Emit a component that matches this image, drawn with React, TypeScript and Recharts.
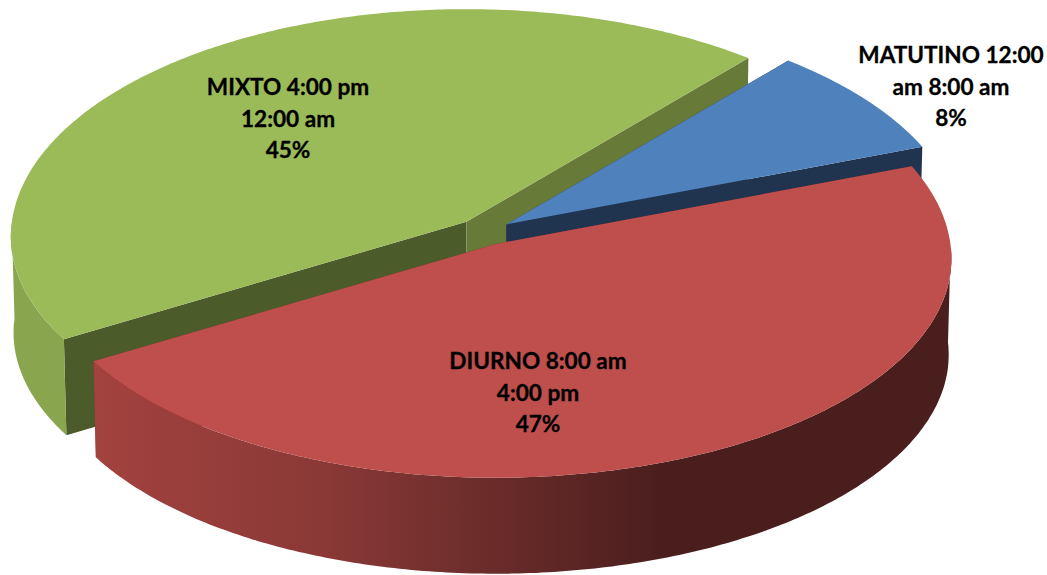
import { PieChart, Pie, Cell } from 'recharts'

const names = ['MIXTO', 'MATUTINO', 'DIURNO']
const values = [45, 8, 47]
const labelLines = [
  ['MIXTO 4:00 pm', '12:00 am', '45%'],
  ['MATUTINO 12:00', 'am 8:00 am', '8%'],
  ['DIURNO 8:00 am', '4:00 pm', '47%'],
]
const topColors = ['#9BBB59', '#4F81BD', '#BE4F4C']
const wallColors = ['#89A54E', '#3A5F8C', 'url(#redWall)']
const startCutColors = ['#4C5B2A', '#20344F', '#7A2F2D']
const endCutColors = ['#677A38', '#20344F', '#7A2F2D']
const labelCenters = [
  { x: 288, y: 95 },
  { x: 951, y: 63 },
  { x: 538, y: 369 },
]

const RY_BACK = 227 / 454.5
const RY_FRONT = 218 / 454.5
const RY_MEAN = 222 / 454.5
const PERSPECTIVE = 0.0673
const EXPLODE = 0.06
const DEPTH = 96
const BOTTOM_SCALE = 0.994
const RAD = Math.PI / 180

const toPath = (pts: number[][]) =>
  'M' + pts.map((p) => p[0].toFixed(1) + ',' + p[1].toFixed(1)).join('L') + 'Z'

function Slice3D(props: any) {
  const { cx, cy, outerRadius, startAngle, endAngle, index } = props
  const rx = outerRadius
  const mid = ((startAngle + endAngle) / 2) * RAD
  // apex moved out along the slice's own middle angle
  const ax = cx + EXPLODE * rx * Math.cos(mid)
  const ay = cy - EXPLODE * rx * RY_MEAN * Math.sin(mid)

  const rim = (deg: number) => {
    const u = Math.cos(deg * RAD)
    const v = -Math.sin(deg * RAD)
    const s = 1 / (1 - PERSPECTIVE * v)
    const ry = rx * (v < 0 ? RY_BACK : RY_FRONT)
    return [ax + rx * u * s, ay + ry * v * s, v]
  }
  const lower = (p: number[]) => [ax + (p[0] - ax) * BOTTOM_SCALE, p[1] + DEPTH]

  const steps = 240
  const arc: number[][] = []
  for (let i = 0; i <= steps; i++) {
    arc.push(rim(startAngle + ((endAngle - startAngle) * i) / steps))
  }
  const first = arc[0]
  const last = arc[arc.length - 1]
  const apex = [ax, ay]
  const apexLow = lower(apex)
  // only the part of the rim facing the viewer shows a wall
  const front = arc.filter((p) => p[2] >= 0)

  return (
    <g>
      <path d={toPath([apex, first, lower(first), apexLow])} fill={startCutColors[index]} />
      <path d={toPath([apex, last, lower(last), apexLow])} fill={endCutColors[index]} />
      {front.length > 1 && (
        <path d={toPath([...front, ...front.map(lower).reverse()])} fill={wallColors[index]} />
      )}
      <path d={toPath([apex, ...arc])} fill={topColors[index]} />
    </g>
  )
}

function SliceLabel(props: any) {
  const { index } = props
  const c = labelCenters[index]
  return (
    <text
      x={c.x}
      y={c.y}
      textAnchor="middle"
      fontFamily="Lato, Carlito, sans-serif"
      fontWeight={700}
      fontSize={22.6}
      stroke="#000"
      strokeWidth={0.3}
      fill="#000"
    >
      {labelLines[index].map((line, i) => (
        <tspan key={line} x={c.x} dy={i === 0 ? 0 : 31.5}>
          {line}
        </tspan>
      ))}
    </text>
  )
}

const data = names.map((name, i) => ({ name, value: values[i] }))

export default function App() {
  return (
    <div style={{ position: 'absolute', left: 0, top: 0, width: 1047, height: 575, background: '#fff', overflow: 'hidden' }}>
      <PieChart width={1047} height={575} margin={{ top: 0, right: 0, bottom: 0, left: 0 }}>
        <defs>
          <linearGradient id="redWall" gradientUnits="userSpaceOnUse" x1={95} y1={0} x2={660} y2={0}>
            <stop offset="0" stopColor="#A3423F" />
            <stop offset="0.4" stopColor="#8A3936" />
            <stop offset="0.75" stopColor="#652A28" />
            <stop offset="1" stopColor="#4B1E1E" />
          </linearGradient>
        </defs>
        <Pie
          data={data}
          dataKey="value"
          nameKey="name"
          cx={484}
          cy={232}
          innerRadius={0}
          outerRadius={454.5}
          startAngle={211.3}
          endAngle={-148.7}
          stroke="none"
          shape={Slice3D}
          label={SliceLabel}
          labelLine={false}
          isAnimationActive={false}
        >
          {names.map((name, i) => (
            <Cell key={name} fill={topColors[i]} />
          ))}
        </Pie>
      </PieChart>
    </div>
  )
}
